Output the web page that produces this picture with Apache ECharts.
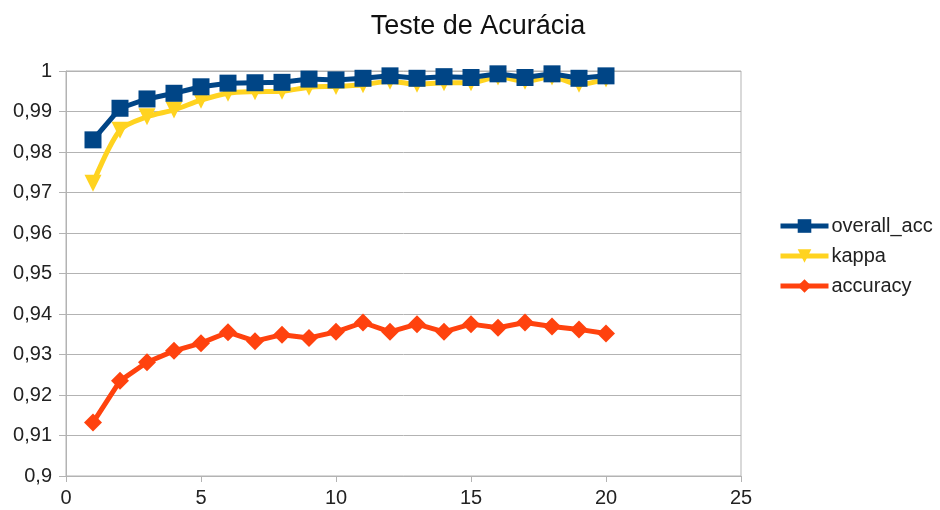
<!DOCTYPE html>
<html>
<head>
<meta charset="utf-8">
<title>Teste de Acurácia</title>
<script src="https://cdn.jsdelivr.net/npm/echarts@6/dist/echarts.min.js"></script>
<style>
  body { margin: 0; background: #fff; }
  #main { width: 940px; height: 510px; }
</style>
</head>
<body>
<div id="main"></div>
<script>
// valores
var epochs = [1, 2, 3, 4, 5, 6, 7, 8, 9, 10, 11, 12, 13, 14, 15, 16, 17, 18, 19, 20];
var overallAcc = [0.9830, 0.9908, 0.9931, 0.9945, 0.9961, 0.9970, 0.9971, 0.9972, 0.9980, 0.9978,
                  0.9982, 0.9988, 0.9982, 0.9986, 0.9984, 0.9993, 0.9984, 0.9993, 0.9982, 0.9988];
var kappa = [0.9723, 0.9854, 0.9887, 0.9904, 0.9928, 0.9945, 0.9949, 0.9950, 0.9960, 0.9962,
             0.9966, 0.9975, 0.9967, 0.9971, 0.9971, 0.9985, 0.9975, 0.9985, 0.9967, 0.9980];
var accuracy = [0.9132, 0.9235, 0.9281, 0.9309, 0.9328, 0.9355, 0.9333, 0.9349, 0.9341, 0.9356,
                0.9379, 0.9356, 0.9375, 0.9356, 0.9375, 0.9366, 0.9379, 0.9369, 0.9362, 0.9352];

function pairs(vals) {
  return vals.map(function (v, i) { return [epochs[i], v]; });
}

var myChart = echarts.init(document.getElementById('main'));
var font = 'Liberation Sans, Arial, sans-serif';

var option = {
  animation: false,
  textStyle: { fontFamily: font },
  title: {
    text: 'Teste de Acurácia',
    left: 473, top: 8, textAlign: 'center',
    textStyle: { fontFamily: font, fontSize: 27, fontWeight: 'normal', color: '#111' }
  },
  legend: {
    orient: 'vertical',
    left: 773, top: 211,
    itemWidth: 48, itemHeight: 17, itemGap: 10,
    lineStyle: { width: 5 },
    textStyle: { fontFamily: font, fontSize: 20, color: '#222', lineHeight: 17, padding: [0, 0, 0, -2] },
    data: ['overall_acc', 'kappa', 'accuracy']
  },
  grid: {
    left: 66, right: 199, top: 71, bottom: 34,
    show: true, borderColor: '#b3b3b3', borderWidth: 1
  },
  xAxis: {
    type: 'value', min: 0, max: 25, interval: 5,
    axisLine: { lineStyle: { color: '#b3b3b3' } },
    axisTick: { show: true, length: 6, lineStyle: { color: '#b3b3b3' } },
    splitLine: { show: false },
    axisLabel: { fontFamily: font, fontSize: 20, color: '#222', margin: 12 }
  },
  yAxis: {
    type: 'value', min: 0.9, max: 1, interval: 0.01,
    axisLine: { show: true, lineStyle: { color: '#b3b3b3' } },
    axisTick: { show: true, length: 7, lineStyle: { color: '#b3b3b3' } },
    splitLine: { lineStyle: { color: '#b3b3b3' } },
    axisLabel: {
      fontFamily: font, fontSize: 20, color: '#222', margin: 14,
      formatter: function (v) {
        var s = String(Math.round(v * 100) / 100);
        return s.replace('.', ',');
      }
    }
  },
  series: [
    {
      name: 'overall_acc', type: 'line', data: pairs(overallAcc), z: 4,
      symbol: 'rect', symbolSize: 17,
      lineStyle: { width: 5, color: '#004586' },
      itemStyle: { color: '#004586' }
    },
    {
      name: 'kappa', type: 'line', data: pairs(kappa), z: 3,
      symbol: 'triangle', symbolRotate: 180, symbolSize: 17, smooth: 0.3,
      lineStyle: { width: 5, color: '#ffd320' },
      itemStyle: { color: '#ffd320' }
    },
    {
      name: 'accuracy', type: 'line', data: pairs(accuracy), z: 2,
      symbol: 'diamond', symbolSize: 18,
      lineStyle: { width: 5, color: '#ff420e' },
      itemStyle: { color: '#ff420e' }
    }
  ]
};

myChart.setOption(option);
</script>
</body>
</html>
